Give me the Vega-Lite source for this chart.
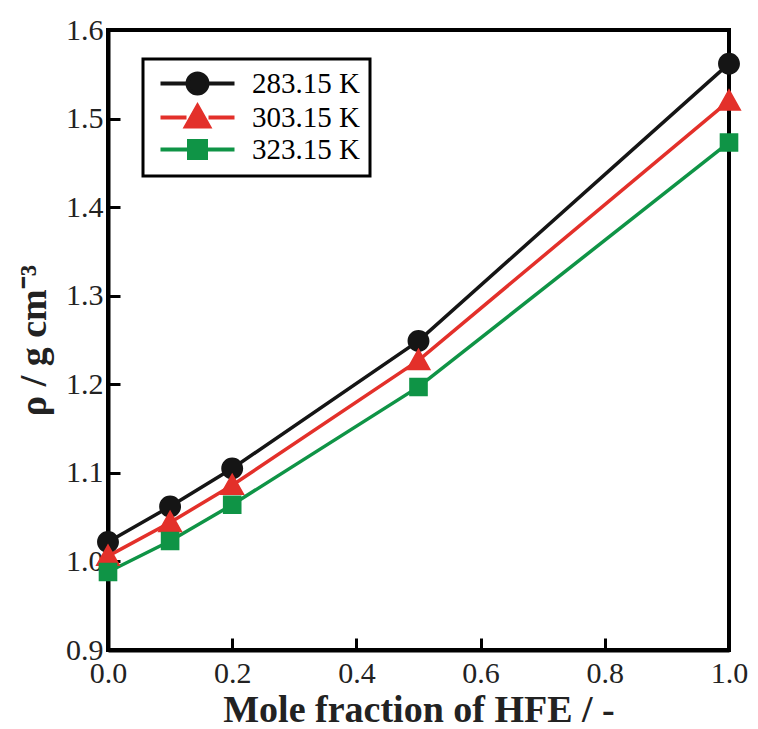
{
  "$schema": "https://vega.github.io/schema/vega-lite/v6.json",
  "autosize": {"type": "none"},
  "width": 621,
  "height": 620,
  "padding": {"left": 108, "top": 30, "right": 29, "bottom": 79},
  "background": "white",
  "data": {
    "values": [
      {"x": 0.0, "rho": 1.022, "T": "283.15 K"},
      {"x": 0.1, "rho": 1.062, "T": "283.15 K"},
      {"x": 0.2, "rho": 1.105, "T": "283.15 K"},
      {"x": 0.5, "rho": 1.249, "T": "283.15 K"},
      {"x": 1.0, "rho": 1.562, "T": "283.15 K"},
      {"x": 0.0, "rho": 1.006, "T": "303.15 K"},
      {"x": 0.1, "rho": 1.044, "T": "303.15 K"},
      {"x": 0.2, "rho": 1.086, "T": "303.15 K"},
      {"x": 0.5, "rho": 1.227, "T": "303.15 K"},
      {"x": 1.0, "rho": 1.520, "T": "303.15 K"},
      {"x": 0.0, "rho": 0.988, "T": "323.15 K"},
      {"x": 0.1, "rho": 1.023, "T": "323.15 K"},
      {"x": 0.2, "rho": 1.064, "T": "323.15 K"},
      {"x": 0.5, "rho": 1.197, "T": "323.15 K"},
      {"x": 1.0, "rho": 1.473, "T": "323.15 K"}
    ]
  },
  "encoding": {
    "x": {
      "field": "x", "type": "quantitative",
      "scale": {"domain": [0, 1], "nice": false, "zero": false},
      "axis": {"values": [0, 0.2, 0.4, 0.6, 0.8, 1.0], "format": ".1f", "title": "Mole fraction of HFE / -", "titleFontSize": 38, "titlePadding": 3, "labelPadding": 20}
    },
    "y": {
      "field": "rho", "type": "quantitative",
      "scale": {"domain": [0.9, 1.6], "nice": false, "zero": false},
      "axis": {"values": [0.9, 1.0, 1.1, 1.2, 1.3, 1.4, 1.5, 1.6], "format": ".1f", "title": "ρ / g cm⁻³", "titleFontSize": 38, "titlePadding": 12, "labelPadding": 17}
    },
    "color": {
      "field": "T", "type": "nominal",
      "scale": {"domain": ["283.15 K", "303.15 K", "323.15 K"], "range": ["#151515", "#e3302a", "#0f9446"]},
      "legend": {
        "title": null,
        "orient": "none",
        "legendX": 35,
        "legendY": 29,
        "padding": 10,
        "strokeColor": "black",
        "fillColor": "white",
        "symbolSize": 400,
        "symbolStrokeWidth": 4,
        "symbolOffset": 30,
        "labelOffset": 40,
        "labelFont": "Liberation Serif",
        "labelFontSize": 29,
        "labelColor": "black",
        "rowPadding": -4,
        "encode": {"legend": {"update": {"strokeWidth": {"value": 3}}}}
      }
    }
  },
  "layer": [
    {"mark": {"type": "line", "strokeWidth": 3.5}},
    {
      "mark": {"type": "point", "filled": true, "opacity": 1, "size": 480},
      "encoding": {
        "stroke": {
          "field": "T", "type": "nominal",
          "scale": {"domain": ["283.15 K", "303.15 K", "323.15 K"], "range": ["#151515", "#e3302a", "#0f9446"]},
          "legend": null
        },
        "strokeWidth": {"value": 0},
        "shape": {
          "field": "T", "type": "nominal",
          "scale": {"domain": ["283.15 K", "303.15 K", "323.15 K"], "range": [
            "M-3.7,0H-1M1,0A1,1,0,1,1,-1,0A1,1,0,1,1,1,0ZM1,0H3.7",
            "M-3.7,0H-1.1M1.1,0H3.7M0,-1.15L1.15,0.9L-1.15,0.9Z",
            "M-3.7,0H-0.85M0.85,0H3.7M-0.85,-0.85H0.85V0.85H-0.85Z"
          ]},
          "legend": null
        }
      }
    }
  ],
  "config": {
    "font": "Liberation Serif",
    "view": {"stroke": "black", "strokeWidth": 4},
    "axis": {
      "grid": false,
      "domainColor": "black",
      "domainWidth": 4,
      "tickColor": "black",
      "tickWidth": 3,
      "tickSize": -12,
      "labelFont": "Liberation Serif",
      "labelFontSize": 30,
      "labelColor": "#222",
      "labelFlush": false,
      "labelOverlap": false,
      "titleFont": "Liberation Serif",
      "titleFontWeight": "bold",
      "titleColor": "#222"
    }
  }
}
